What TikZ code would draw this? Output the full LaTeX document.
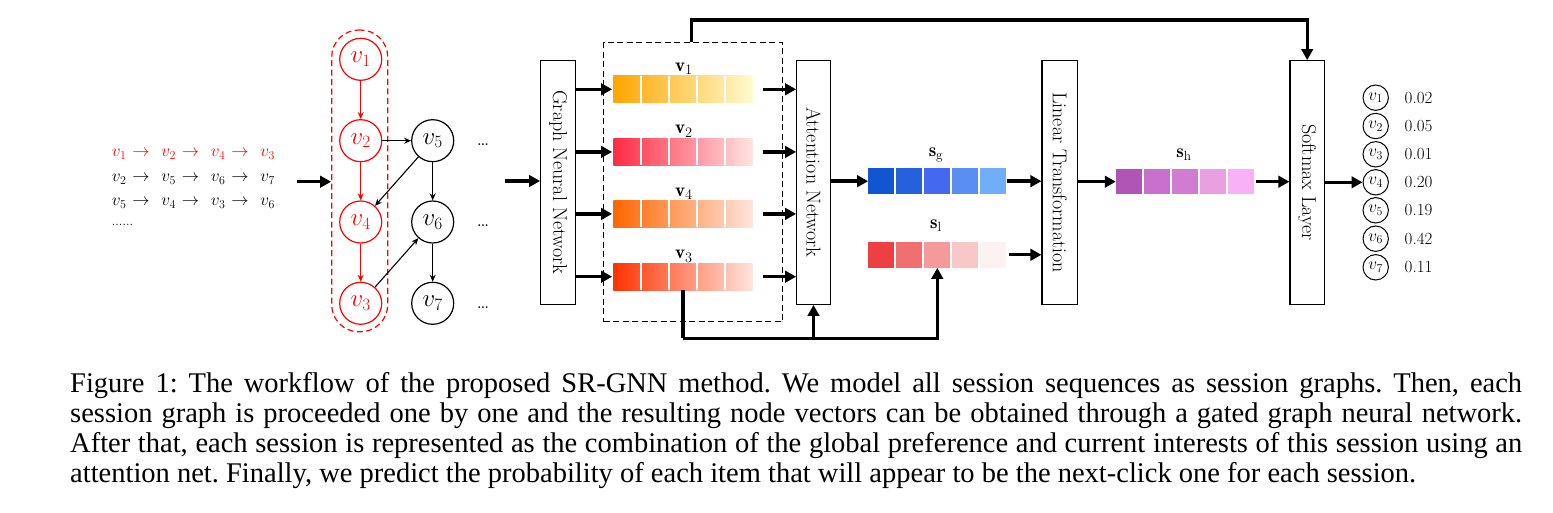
\documentclass[tikz,border=0pt]{standalone}
\usepackage{fontspec}
\newfontfamily\capfont{Liberation Serif}
\usetikzlibrary{arrows.meta,calc}
\definecolor{vAa}{HTML}{FFA500}\definecolor{vAb}{HTML}{FFFBCF}
\definecolor{vBa}{HTML}{FF2A45}\definecolor{vBb}{HTML}{FFE4E1}
\definecolor{vCa}{HTML}{FF6600}\definecolor{vCb}{HTML}{FFE4DE}
\definecolor{vDa}{HTML}{FF3300}\definecolor{vDb}{HTML}{FFE4DE}
\definecolor{sgA}{HTML}{1155D0}\definecolor{sgB}{HTML}{2560DD}\definecolor{sgC}{HTML}{4468F0}\definecolor{sgD}{HTML}{5A8EF0}\definecolor{sgE}{HTML}{70AEF8}
\definecolor{slA}{HTML}{EE4040}\definecolor{slB}{HTML}{F07070}\definecolor{slC}{HTML}{F49A9A}\definecolor{slD}{HTML}{F8C8C8}\definecolor{slE}{HTML}{FDF2F2}
\definecolor{shA}{HTML}{B055B5}\definecolor{shB}{HTML}{C870CC}\definecolor{shC}{HTML}{D07CD0}\definecolor{shD}{HTML}{E8A0E2}\definecolor{shE}{HTML}{F8B0F6}
\newcommand\seqcell[1]{\makebox[49.5pt][l]{$#1$\hspace{6pt}$\rightarrow$}}
\tikzset{
 thickarrow/.style={line width=3.4pt, -{Triangle[length=11pt,width=11.5pt]}},
 thinarrow/.style={line width=1.1pt, -{Stealth[length=7pt,width=6pt]}},
 layerbox/.style={draw, line width=1.2pt, minimum height=243.6pt, inner sep=0pt},
 layertext/.style={rotate=-90, inner sep=0pt, font=\fontsize{20}{24}\selectfont},
 gnode/.style={circle, draw, line width=1.2pt, minimum size=42pt, inner sep=0pt, font=\fontsize{23}{26}\selectfont},
 rnode/.style={gnode, red},
 pnode/.style={circle, draw, line width=1pt, minimum size=25.4pt, inner sep=0pt, font=\fontsize{17}{20}\selectfont},
 prob/.style={anchor=west, inner sep=0pt, font=\fontsize{17}{20}\selectfont},
 rowbox/.style={minimum width=139.4pt, minimum height=26.6pt, inner sep=0pt, shade},
 cellsep/.style={white, line width=2pt},
 cell/.style={minimum width=26pt, minimum height=26pt, inner sep=0pt},
 veclabel/.style={anchor=base, inner sep=0pt, font=\fontsize{19}{22}\selectfont},
 seqtext/.style={anchor=base west, inner sep=0pt, font=\fontsize{18}{22}\selectfont},
 dotstext/.style={anchor=base, inner sep=0pt, font=\fontsize{22}{26}\selectfont},
}
\begin{document}
\begin{tikzpicture}[x=1pt,y=-1pt]
\useasboundingbox[fill=white] (0,0) rectangle (1553,513);

% ---- session sequences
\node[seqtext, red] (q1) at (111.7,156.7) {\seqcell{v_1}\seqcell{v_2}\seqcell{v_4}$v_3$};
\node[seqtext] (q2) at (111.7,181.7) {\seqcell{v_2}\seqcell{v_5}\seqcell{v_6}$v_7$};
\node[seqtext] (q3) at (111.7,205.5) {\seqcell{v_5}\seqcell{v_4}\seqcell{v_3}$v_6$};
\node[anchor=base west, inner sep=0pt, font=\fontsize{13}{15}\selectfont] (q4) at (111.7,225.5) {......};
\coordinate (inA) at (297.3,181.7);

% ---- session graph
\node[draw=red, dashed, dash pattern=on 6pt off 3.5pt, line width=1.2pt, rounded corners=27pt,
      minimum width=56pt, minimum height=301.7pt, inner sep=0pt] (grp) at (359.7,180.9) {};
\node[rnode] (n1) at (360.7,59.3) {$v_1$};
\node[rnode] (n2) at (360.7,140.7) {$v_2$};
\node[rnode] (n4) at (360.7,222) {$v_4$};
\node[rnode] (n3) at (360.7,303.3) {$v_3$};
\node[gnode] (n5) at (432.7,140.7) {$v_5$};
\node[gnode] (n6) at (432.7,222) {$v_6$};
\node[gnode] (n7) at (432.7,303.3) {$v_7$};
\node[dotstext] (d1) at (483,145.5) {\dots};
\node[dotstext] (d2) at (483,227) {\dots};
\node[dotstext] (d3) at (483,308.5) {\dots};
\draw[thinarrow, red] (n1) -- (n2);
\draw[thinarrow, red] (n2) -- (n4);
\draw[thinarrow, red] (n4) -- (n3);
\draw[thinarrow] (n2) -- (n5);
\draw[thinarrow] (n5) -- (n4);
\draw[thinarrow] (n3) -- (n6);
\draw[thinarrow] (n5) -- (n6);
\draw[thinarrow] (n6) -- (n7);
\draw[thickarrow] (inA) -- (inA -| grp.west);
\coordinate (inB) at (505,181);

% ---- layers
\node[layerbox, minimum width=35pt] (gnn) at (558.2,182.5) {};
\node[layertext] at (gnn) {Graph Neural Network};
\node[layerbox, minimum width=33.6pt] (att) at (813.5,182.5) {};
\node[layertext] at (att) {Attention Network};
\node[layerbox, minimum width=35.3pt] (lin) at (1059.7,182.5) {};
\node[layertext] at (lin) {Linear Transformation};
\node[layerbox, minimum width=34.3pt] (soft) at (1307.2,182.5) {};
\node[layertext] at (soft) {Softmax Layer};
\draw[thickarrow] (inB) -- (inB -| gnn.west);

% ---- node vectors
\node[draw, dashed, dash pattern=on 6pt off 3.5pt, line width=1.2pt, minimum width=179pt, minimum height=279pt, inner sep=0pt] (emb) at (693.2,182.2) {};
\node[rowbox, left color=vAa, right color=vAb] (r1) at (683,89.3) {};
\node[rowbox, left color=vBa, right color=vBb] (r2) at (683,151.9) {};
\node[rowbox, left color=vCa, right color=vCb] (r4) at (683,213.9) {};
\node[rowbox, left color=vDa, right color=vDb] (r3) at (683,276.7) {};
\foreach \r in {r1,r2,r4,r3}{
  \foreach \x in {641,669,697,725}{
    \draw[cellsep] (\r.north -| \x,0) -- (\r.south -| \x,0);
  }
}
\node[veclabel] (l1) at (684,71.5) {$\mathbf{v}_1$};
\node[veclabel] (l2) at (684,134) {$\mathbf{v}_2$};
\node[veclabel] (l4) at (684,196.5) {$\mathbf{v}_4$};
\node[veclabel] (l3) at (684,258.8) {$\mathbf{v}_3$};
\foreach \r in {r1,r2,r4,r3}{
  \draw[thickarrow] (gnn.east |- \r.west) -- ([xshift=-1pt]\r.west);
  \draw[thickarrow] ([xshift=10pt]\r.east) -- (att.west |- \r.east);
}

% ---- session embeddings
\foreach \c [count=\i] in {sgA,sgB,sgC,sgD,sgE}
  \node[cell, fill=\c, minimum height=26.3pt] (sg\i) at ({881.3+28*(\i-1)},181.2) {};
\foreach \c [count=\i] in {slA,slB,slC,slD,slE}
  \node[cell, fill=\c, minimum height=25.7pt] (sl\i) at ({881.3+28*(\i-1)},254.8) {};
\foreach \c [count=\i] in {shA,shB,shC,shD,shE}
  \node[cell, fill=\c, minimum height=25.3pt] (sh\i) at ({1129+28*(\i-1)},181.7) {};
\node[veclabel] (lg) at (936,156.7) {$\mathbf{s}_\mathrm{g}$};
\node[veclabel] (ll) at (936,228.3) {$\mathbf{s}_\mathrm{l}$};
\node[veclabel] (lh) at (1184,157.3) {$\mathbf{s}_\mathrm{h}$};

\draw[thickarrow] (att.east |- sg1.west) -- (sg1.west);
\draw[thickarrow] (sg5.east) -- (lin.west |- sg5.east);
\draw[thickarrow] ([xshift=2.5pt]sl5.east) -- (lin.west |- sl5.east);
\draw[thickarrow] (lin.east |- sh1.west) -- (sh1.west);
\draw[thickarrow] ([xshift=1.5pt]sh5.east) -- (soft.west |- sh5.east);

% ---- long connectors
\coordinate (topY) at (0,20);
\coordinate (botY) at (0,338.3);
\draw[thickarrow] (emb.north -| 691.7,0) |- (topY -| soft.north) -- (soft.north);
\draw[line width=3.4pt] (r3.south) -- (botY -| r3.south);
\draw[thickarrow] (botY -| r3.south) -| (sl3.south);
\draw[thickarrow] (botY -| att.south) -- (att.south);

% ---- output probabilities
\foreach \i/\y/\p in {1/97.7/0.02, 2/126/0.05, 3/154.3/0.01, 4/182.3/0.20, 5/210.3/0.19, 6/238.7/0.42, 7/267.3/0.11}{
  \node[pnode] (p\i) at (1375.7,\y) {$v_\i$};
  \node[prob] (pv\i) at (1404.5,\y) {\p};
}
\draw[thickarrow] (soft.east |- p4.west) -- (p4.west);

% ---- caption
\node[anchor=north west, inner sep=0pt, text width=1452pt, align=justify,
      font=\capfont\fontsize{28.5}{30}\selectfont\frenchspacing] (cap) at (70,372.5)
{Figure 1: The workflow of the proposed SR-GNN method. We model all session sequences as session graphs. Then, each\linebreak
session graph is proceeded one by one and the resulting node vectors can be obtained through a gated graph neural network.\linebreak
After that, each session is represented as the combination of the global preference and current interests of this session using an\linebreak
attention net. Finally, we predict the probability of each item that will appear to be the next-click one for each session.};
\end{tikzpicture}
\end{document}
